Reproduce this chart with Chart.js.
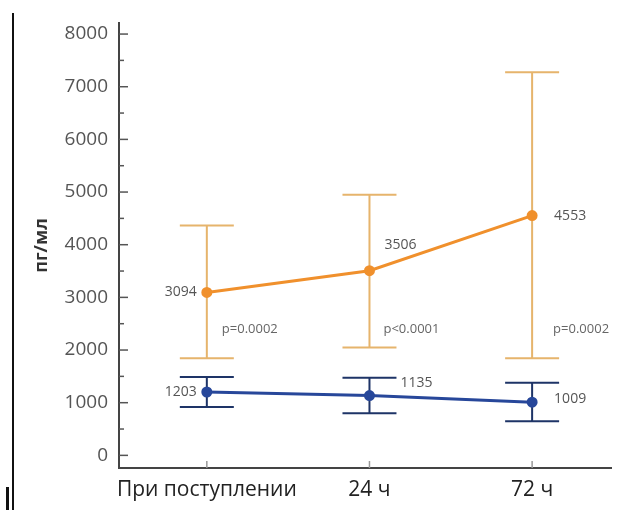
<!DOCTYPE html>
<html>
<head>
<meta charset="utf-8">
<script src="https://cdn.jsdelivr.net/npm/chart.js@4.4.1/dist/chart.umd.min.js"></script>
<style>
  html, body { margin: 0; padding: 0; background: #fff; }
  #wrap { position: relative; width: 618px; height: 510px; }
  #edge { position: absolute; left: 12px; top: 13px; width: 1.5px; height: 497px; background: #111; }
  #mark { position: absolute; left: 6px; top: 487px; width: 3px; height: 23px; background: #111; }
</style>
</head>
<body>
<div id="wrap">
  <canvas id="chart"></canvas>
  <div id="edge"></div>
  <div id="mark"></div>
</div>
<script>
const categories = ['При поступлении', '24 ч', '72 ч'];
const yTicks = [0, 1000, 2000, 3000, 4000, 5000, 6000, 7000, 8000];

const orangeMean = [3094, 3506, 4553];
const orangeUpper = [4365, 4950, 7275];
const orangeLower = [1845, 2050, 1845];

const blueMean = [1203, 1135, 1009];
const blueUpper = [1488, 1472, 1378];
const blueLower = [918, 800, 650];

const pLabels = ['p=0.0002', 'p<0.0001', 'p=0.0002'];
const pLabelLevel = 2400;

const ORANGE = '#f0902c';
const ORANGE_BAR = '#e6b46c';
const BLUE = '#27479a';
const BLUE_BAR = '#1e3467';
const FONT = '"Open Sans", "Noto Sans", sans-serif';

// label offsets relative to the point (px), styling only
const orangeLabelPos = [[-10, 0, 'right'], [15, -26, 'left'], [22, 0, 'left']];
const blueLabelPos = [[-10, 0, 'right'], [31, -13, 'left'], [22, -3, 'left']];
const pLabelDx = [15, 14, 21];

const errorBars = {
  id: 'errorBars',
  beforeDatasetsDraw(chart) {
    const { ctx, scales: { x, y } } = chart;
    const groups = [
      { upper: orangeUpper, lower: orangeLower, color: ORANGE_BAR, half: 27 },
      { upper: blueUpper, lower: blueLower, color: BLUE_BAR, half: 27 }
    ];
    ctx.save();
    groups.forEach((g) => {
      ctx.strokeStyle = g.color;
      ctx.lineWidth = 2;
      g.upper.forEach((u, i) => {
        const px = x.getPixelForValue(i);
        const top = y.getPixelForValue(u);
        const bot = y.getPixelForValue(g.lower[i]);
        ctx.beginPath();
        ctx.moveTo(px, top); ctx.lineTo(px, bot);
        ctx.moveTo(px - g.half, top); ctx.lineTo(px + g.half, top);
        ctx.moveTo(px - g.half, bot); ctx.lineTo(px + g.half, bot);
        ctx.stroke();
      });
    });
    ctx.restore();
  }
};

const extras = {
  id: 'extras',
  afterDraw(chart) {
    const { ctx, chartArea, scales: { x, y } } = chart;
    ctx.save();
    // y ticks pointing inward (major + minor)
    ctx.strokeStyle = '#555';
    ctx.lineWidth = 1.5;
    for (let v = 0; v <= 8000; v += 500) {
      const py = y.getPixelForValue(v);
      const len = v % 1000 === 0 ? 9 : 5;
      ctx.beginPath();
      ctx.moveTo(chartArea.left, py);
      ctx.lineTo(chartArea.left + len, py);
      ctx.stroke();
    }
    // x category ticks
    ctx.strokeStyle = '#999';
    categories.forEach((c, i) => {
      const px = x.getPixelForValue(i);
      ctx.beginPath();
      ctx.moveTo(px, chartArea.bottom);
      ctx.lineTo(px, chartArea.bottom - 7);
      ctx.stroke();
    });
    // value labels
    ctx.fillStyle = '#555';
    ctx.textBaseline = 'middle';
    ctx.font = '14px ' + FONT;
    orangeMean.forEach((v, i) => {
      const [dx, dy, align] = orangeLabelPos[i];
      ctx.textAlign = align;
      ctx.fillText(String(v), x.getPixelForValue(i) + dx, y.getPixelForValue(v) + dy);
    });
    blueMean.forEach((v, i) => {
      const [dx, dy, align] = blueLabelPos[i];
      ctx.textAlign = align;
      ctx.fillText(String(v), x.getPixelForValue(i) + dx, y.getPixelForValue(v) + dy);
    });
    ctx.font = '13px ' + FONT;
    ctx.fillStyle = '#666';
    ctx.textAlign = 'left';
    pLabels.forEach((t, i) => {
      ctx.fillText(t, x.getPixelForValue(i) + pLabelDx[i], y.getPixelForValue(pLabelLevel));
    });
    ctx.restore();
  }
};

new Chart(document.getElementById('chart'), {
  type: 'line',
  data: {
    datasets: [
      {
        label: 'orange',
        data: orangeMean.map((v, i) => ({ x: i, y: v })),
        borderColor: ORANGE,
        backgroundColor: ORANGE,
        borderWidth: 3,
        pointRadius: 4,
        pointHoverRadius: 4
      },
      {
        label: 'blue',
        data: blueMean.map((v, i) => ({ x: i, y: v })),
        borderColor: BLUE,
        backgroundColor: BLUE,
        borderWidth: 3,
        pointRadius: 4,
        pointHoverRadius: 4
      }
    ]
  },
  options: {
    responsive: true,
    maintainAspectRatio: false,
    animation: false,
    layout: { padding: { left: 30, right: 6, top: 23, bottom: 0 } },
    plugins: { legend: { display: false }, tooltip: { enabled: false } },
    scales: {
      x: {
        type: 'linear',
        min: -0.54,
        max: 2.485,
        afterBuildTicks: (scale) => { scale.ticks = categories.map((c, i) => ({ value: i })); },
        afterFit: (scale) => { scale.height = 42; },
        grid: { display: false, drawTicks: false },
        border: { display: true, color: '#444', width: 2 },
        ticks: {
          padding: 9,
          color: '#222',
          font: { family: FONT, size: 21 },
          callback: (v) => categories[v]
        }
      },
      y: {
        min: -240,
        max: 8210,
        afterBuildTicks: (scale) => { scale.ticks = yTicks.map((v) => ({ value: v })); },
        afterFit: (scale) => { scale.width = 89; },
        grid: { display: false, drawTicks: false },
        border: { display: true, color: '#444', width: 2 },
        ticks: {
          padding: 11,
          color: '#555',
          font: { family: FONT, size: 19 },
          callback: (v) => String(v)
        },
        title: {
          display: true,
          text: 'пг/мл',
          color: '#333',
          padding: { top: 1, bottom: 0 },
          font: { family: FONT, size: 18, weight: 'bold' }
        }
      }
    }
  },
  plugins: [errorBars, extras]
});
</script>
</body>
</html>
